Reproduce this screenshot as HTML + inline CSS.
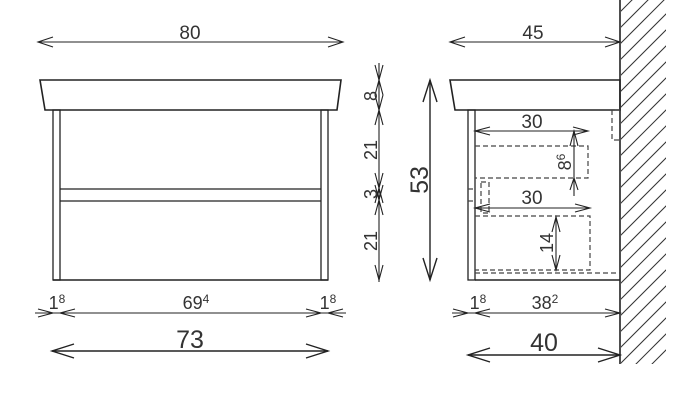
<!DOCTYPE html>
<html><head><meta charset="utf-8"><style>
html,body{margin:0;padding:0;background:#fff;}
svg{display:block;}
text{font-family:"Liberation Sans",sans-serif;fill:#333;}
</style></head><body>
<svg width="694" height="402" viewBox="0 0 694 402" xmlns="http://www.w3.org/2000/svg">
<defs>
<clipPath id="wc"><rect x="621" y="0" width="45" height="364"/></clipPath>
</defs>
<g fill="none" stroke="#222" stroke-width="1.3">
<!-- front view -->
<path d="M40 80 L341 80 L337 110 L45 110 Z" stroke-width="1.6"/>
<rect x="53" y="110" width="7" height="170"/>
<rect x="321" y="110" width="7" height="170"/>
<line x1="53" y1="280" x2="328" y2="280" stroke-width="1.6"/>
<line x1="60" y1="189" x2="321" y2="189"/>
<line x1="60" y1="201" x2="321" y2="201"/>
<!-- side view -->
<path d="M450 80 L620 80 L620 110 L455 110 Z" stroke-width="1.6"/>
<rect x="468" y="110" width="7" height="170"/>
<line x1="475" y1="280" x2="620" y2="280" stroke-width="1.6"/>
<line x1="620" y1="0" x2="620" y2="364" stroke-width="1.6"/>
</g>
<g stroke="#333" stroke-width="1" clip-path="url(#wc)">
<line x1="620" y1="12" x2="680" y2="-48"/><line x1="620" y1="28" x2="680" y2="-32"/>
<line x1="620" y1="44" x2="680" y2="-16"/><line x1="620" y1="60" x2="680" y2="0"/>
<line x1="620" y1="76" x2="680" y2="16"/><line x1="620" y1="92" x2="680" y2="32"/>
<line x1="620" y1="108" x2="680" y2="48"/><line x1="620" y1="124" x2="680" y2="64"/>
<line x1="620" y1="140" x2="680" y2="80"/><line x1="620" y1="156" x2="680" y2="96"/>
<line x1="620" y1="172" x2="680" y2="112"/><line x1="620" y1="188" x2="680" y2="128"/>
<line x1="620" y1="204" x2="680" y2="144"/><line x1="620" y1="220" x2="680" y2="160"/>
<line x1="620" y1="236" x2="680" y2="176"/><line x1="620" y1="252" x2="680" y2="192"/>
<line x1="620" y1="268" x2="680" y2="208"/><line x1="620" y1="284" x2="680" y2="224"/>
<line x1="620" y1="300" x2="680" y2="240"/><line x1="620" y1="316" x2="680" y2="256"/>
<line x1="620" y1="332" x2="680" y2="272"/><line x1="620" y1="348" x2="680" y2="288"/>
<line x1="620" y1="364" x2="680" y2="304"/><line x1="620" y1="380" x2="680" y2="320"/>
<line x1="620" y1="396" x2="680" y2="336"/><line x1="620" y1="412" x2="680" y2="352"/>
</g>
<!-- dashed -->
<g fill="none" stroke="#444" stroke-width="1.2" stroke-dasharray="5,3">
<path d="M475 146 L588 146 L588 178 L475 178"/>
<path d="M475 216 L590 216 L590 270 L475 270"/>
<line x1="475" y1="273" x2="620" y2="273"/>
<path d="M620 110 L612 110 L612 140 L620 140"/>
<rect x="481" y="182" width="8" height="31"/>
<path d="M468 189 L475 189 M468 201 L475 201"/>
</g>
<!-- dimension lines -->
<g fill="none" stroke="#222" stroke-width="1.1">
<!-- 80 -->
<line x1="38" y1="42" x2="343" y2="42"/><path d="M53 37 L38 42 L53 47 M328 37 L343 42 L328 47"/>
<!-- 45 -->
<line x1="450" y1="42" x2="620" y2="42"/><path d="M465 37 L450 42 L465 47 M605 37 L620 42 L605 47"/>
<!-- bottom front -->
<line x1="35" y1="313" x2="346" y2="313"/>
<path d="M38 309 L53 313 L38 317 M75 309 L60 313 L75 317 M306 309 L321 313 L306 317 M343 309 L328 313 L343 317"/>
<line x1="52" y1="351" x2="328" y2="351" stroke-width="1.4"/>
<path d="M74 344 L52 351 L74 358 M306 344 L328 351 L306 358" stroke-width="1.4"/>
<!-- bottom side -->
<line x1="452" y1="313" x2="620" y2="313"/>
<path d="M453 309 L468 313 L453 317 M490 309 L475 313 L490 317 M605 309 L620 313 L605 317"/>
<line x1="468" y1="355" x2="620" y2="355" stroke-width="1.4"/>
<path d="M490 348 L468 355 L490 362 M598 348 L620 355 L598 362" stroke-width="1.4"/>
<!-- vertical left chain -->
<line x1="379" y1="63" x2="379" y2="282"/>
<path d="M375 65 L379 80 L383 65 M375 95 L379 80 L383 95 M375 95 L379 110 L383 95 M375 125 L379 110 L383 125 M375 173 L379 188 L383 173 M375 203 L379 188 L383 203 M375 185 L379 200 L383 185 M375 215 L379 200 L383 215 M375 265 L379 280 L383 265"/>
<!-- 53 -->
<line x1="430" y1="80" x2="430" y2="280" stroke-width="1.4"/>
<path d="M423 102 L430 80 L437 102 M423 258 L430 280 L437 258" stroke-width="1.4"/>
<!-- side inner dims -->
<line x1="475" y1="131" x2="588" y2="131"/><path d="M490 127 L475 131 L490 135 M573 127 L588 131 L573 135"/>
<line x1="475" y1="208" x2="590" y2="208"/><path d="M490 204 L475 208 L490 212 M575 204 L590 208 L575 212"/>
<line x1="574" y1="131" x2="574" y2="196"/><path d="M570 146 L574 131 L578 146 M570 190 L574 178 L578 190"/>
<line x1="556" y1="217" x2="556" y2="270"/><path d="M552 232 L556 217 L560 232 M552 255 L556 270 L560 255"/>
</g>
<!-- labels -->
<g>
<text x="190" y="39" font-size="19" text-anchor="middle">80</text>
<text x="533" y="39" font-size="19" text-anchor="middle">45</text>
<text x="57" y="309" font-size="18" text-anchor="middle">1<tspan font-size="12" dy="-6">8</tspan></text>
<text x="196" y="309" font-size="18" text-anchor="middle">69<tspan font-size="12" dy="-6">4</tspan></text>
<text x="328" y="309" font-size="18" text-anchor="middle">1<tspan font-size="12" dy="-6">8</tspan></text>
<text x="190" y="348" font-size="25" text-anchor="middle">73</text>
<text x="478" y="309" font-size="18" text-anchor="middle">1<tspan font-size="12" dy="-6">8</tspan></text>
<text x="545" y="309" font-size="18" text-anchor="middle">38<tspan font-size="12" dy="-6">2</tspan></text>
<text x="544" y="351" font-size="25" text-anchor="middle">40</text>
<text x="532" y="128" font-size="19" text-anchor="middle">30</text>
<text x="532" y="204" font-size="19" text-anchor="middle">30</text>
<text transform="translate(377,96) rotate(-90)" font-size="18" text-anchor="middle">8</text>
<text transform="translate(377,150) rotate(-90)" font-size="18" text-anchor="middle">21</text>
<text transform="translate(377,194) rotate(-90)" font-size="18" text-anchor="middle">3</text>
<text transform="translate(377,241) rotate(-90)" font-size="18" text-anchor="middle">21</text>
<text transform="translate(428,180) rotate(-90)" font-size="25" text-anchor="middle">53</text>
<text transform="translate(571,162) rotate(-90)" font-size="18" text-anchor="middle">8<tspan font-size="12" dy="-6">6</tspan></text>
<text transform="translate(553,243) rotate(-90)" font-size="18" text-anchor="middle">14</text>
</g>
</svg>
</body></html>
